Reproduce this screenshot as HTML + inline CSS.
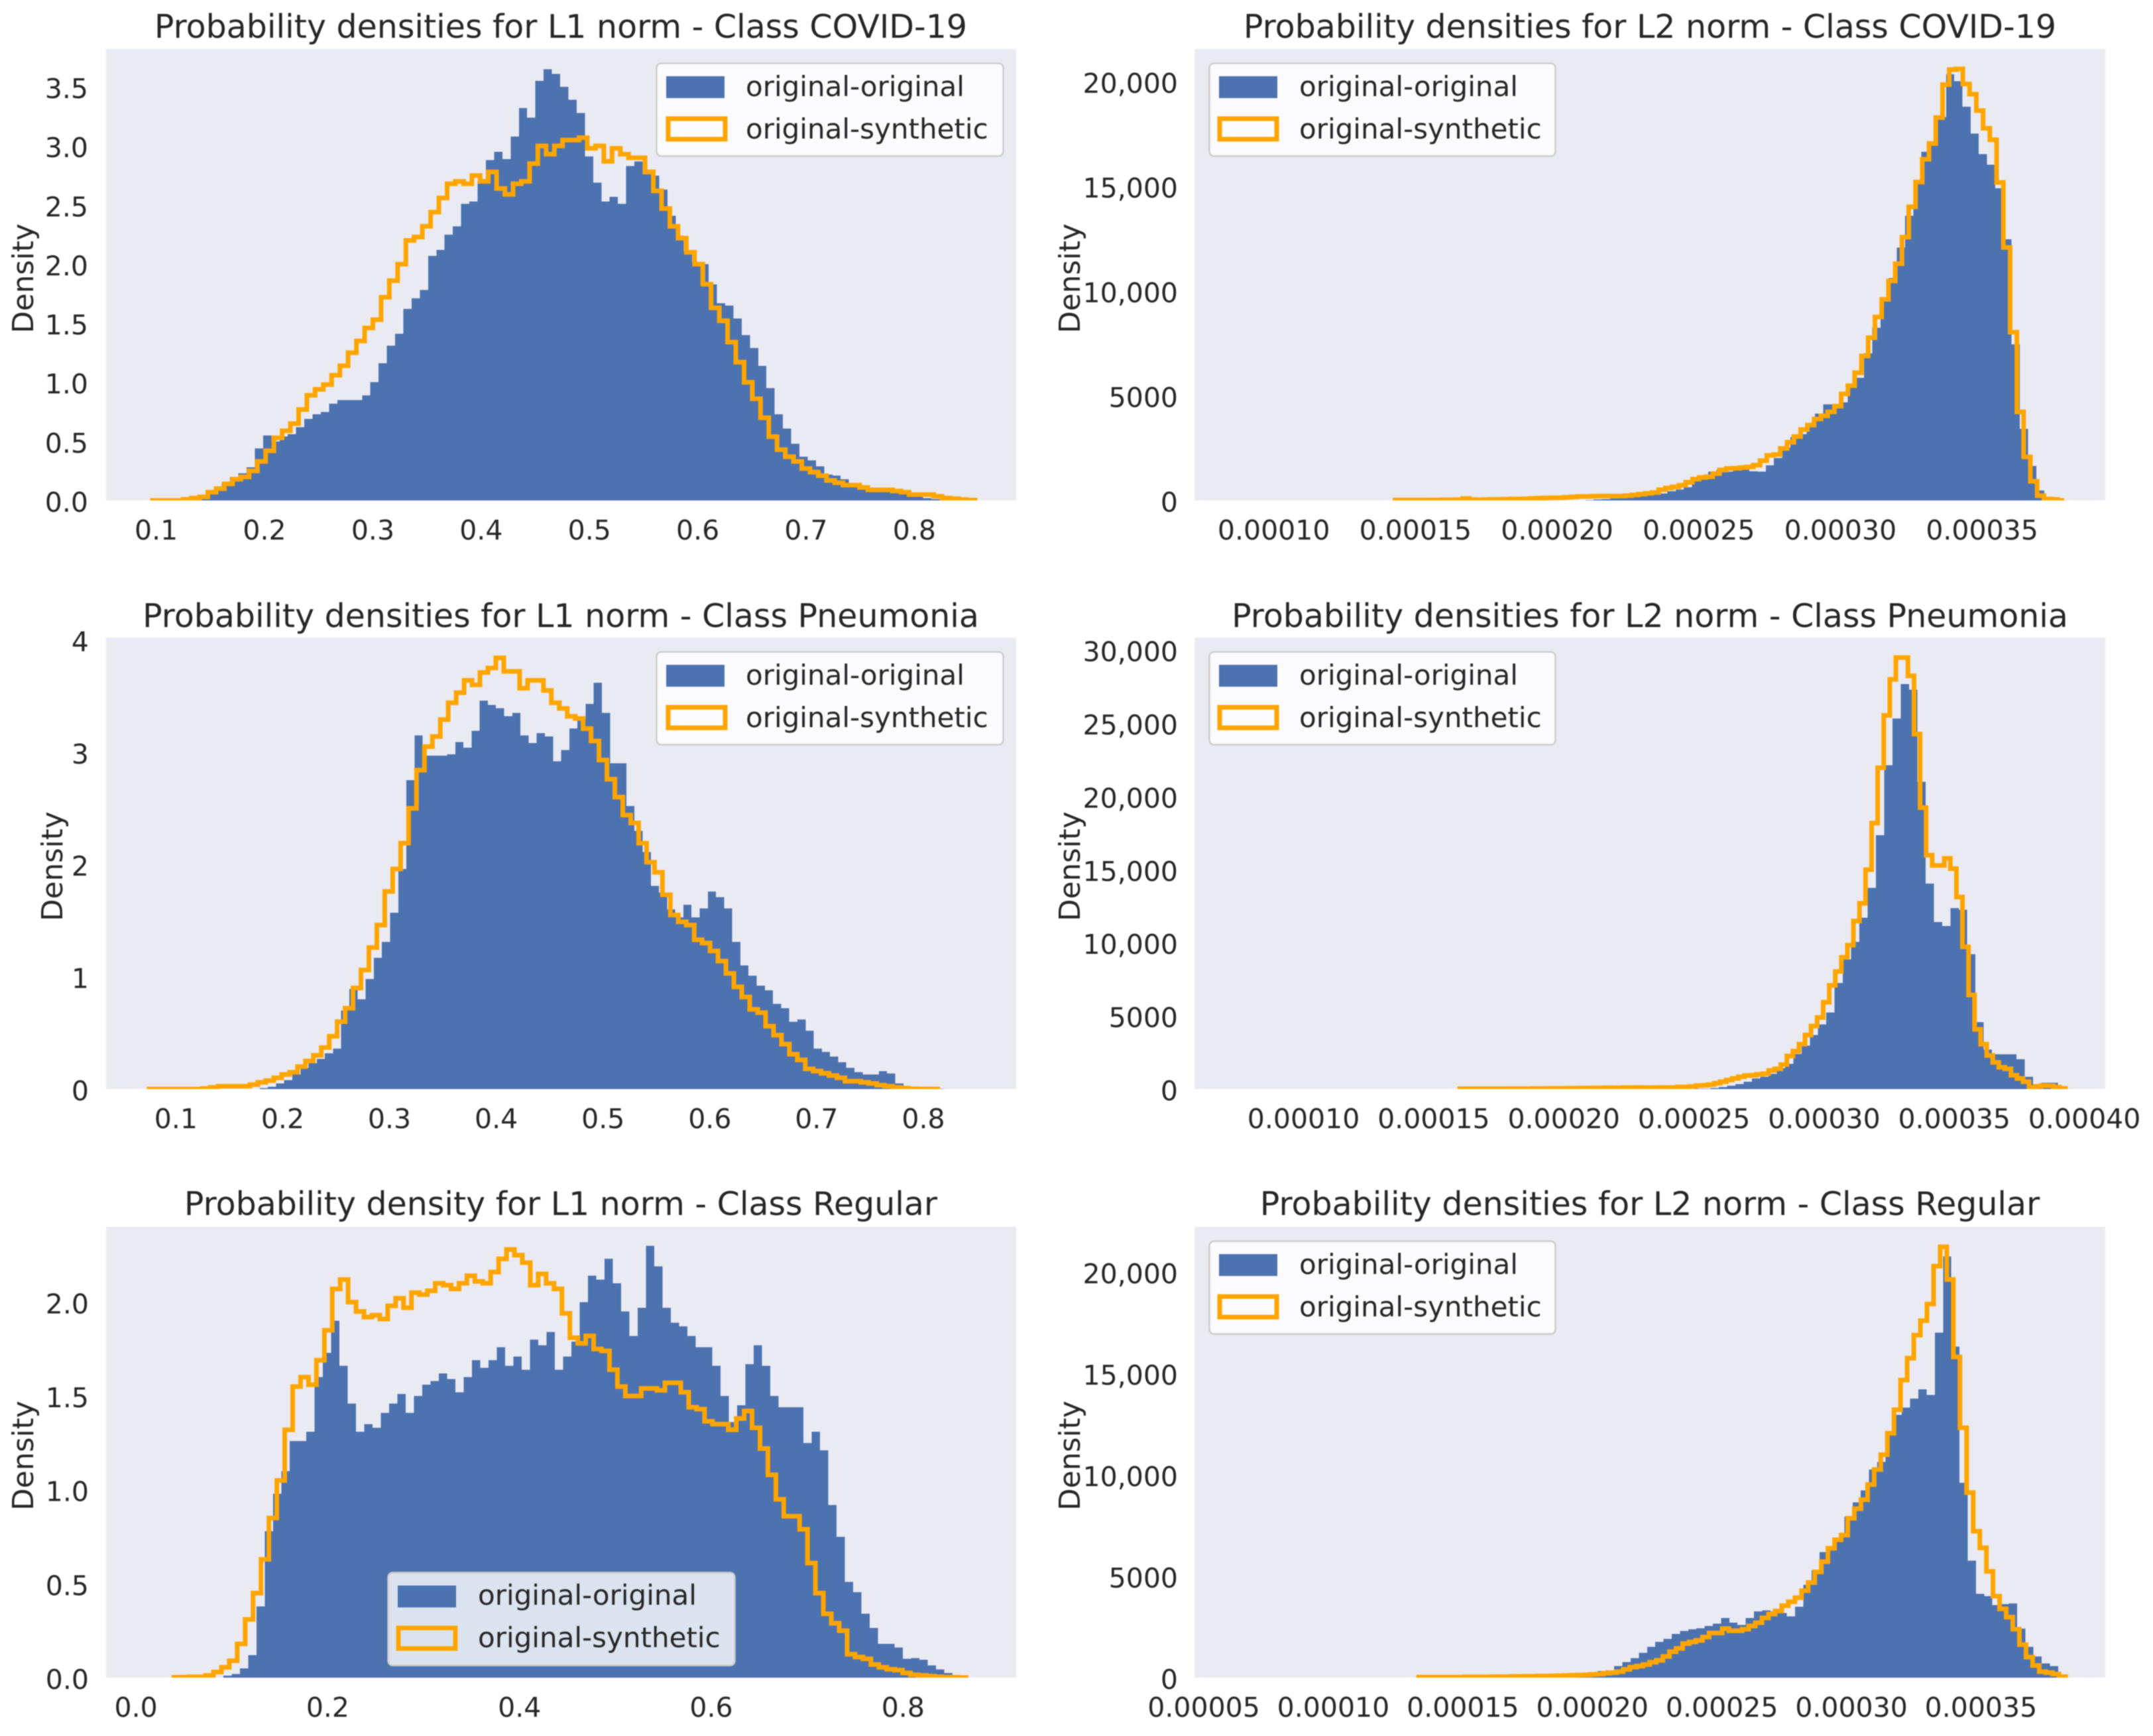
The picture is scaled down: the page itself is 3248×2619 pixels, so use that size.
<!DOCTYPE html>
<html lang="en">
<head>
<meta charset="utf-8">
<title>Probability densities</title>
<style>
html,body{margin:0;padding:0;background:#fff;}
svg{display:block;filter:blur(0.7px);}
text{font-family:"DejaVu Sans","Liberation Sans",sans-serif;fill:#262626;}
.title{font-size:49px;text-anchor:middle;}
.ylab{font-size:43.5px;text-anchor:middle;}
.leg{font-size:42px;}
.tick{font-size:41px;}
</style>
</head>
<body>
<svg id="chart" xmlns="http://www.w3.org/2000/svg" width="3248" height="2619" viewBox="0 0 3248 2619">
<rect width="3248" height="2619" fill="#fff"/>
<defs>
<clipPath id="clip-p1"><rect x="160" y="74" width="1373" height="681"/></clipPath>
<clipPath id="clip-p2"><rect x="1802" y="74" width="1374" height="681"/></clipPath>
<clipPath id="clip-p3"><rect x="160" y="962" width="1373" height="681"/></clipPath>
<clipPath id="clip-p4"><rect x="1802" y="962" width="1374" height="681"/></clipPath>
<clipPath id="clip-p5"><rect x="160" y="1851" width="1373" height="680"/></clipPath>
<clipPath id="clip-p6"><rect x="1802" y="1851" width="1374" height="680"/></clipPath>
</defs>

<g>
<rect x="160" y="74" width="1373" height="681" fill="#eaeaf2"/>
<g id="p1-marks" clip-path="url(#clip-p1)"></g>
<g id="p1-ticks"></g>
<text class="title" x="846" y="57">Probability densities for L1 norm - Class COVID-19</text>
<text class="ylab" transform="translate(50,420) rotate(-90)">Density</text>
<g>
<rect x="990.5" y="95.5" width="523" height="140" rx="7" fill="#fff" fill-opacity="0.8" stroke="#cccccc" stroke-width="2.5"/>
<rect x="1005" y="115" width="88" height="33" fill="#4c72b0"/>
<rect x="1008" y="179" width="86" height="31" fill="none" stroke="#ffa500" stroke-width="7"/>
<text class="leg" x="1125" y="145">original-original</text>
<text class="leg" x="1125" y="209">original-synthetic</text>
</g>
</g>

<g>
<rect x="1802" y="74" width="1374" height="681" fill="#eaeaf2"/>
<g id="p2-marks" clip-path="url(#clip-p2)"></g>
<g id="p2-ticks"></g>
<text class="title" x="2489" y="57">Probability densities for L2 norm - Class COVID-19</text>
<text class="ylab" transform="translate(1629,420) rotate(-90)">Density</text>
<g>
<rect x="1824.5" y="95.5" width="522" height="140" rx="7" fill="#fff" fill-opacity="0.8" stroke="#cccccc" stroke-width="2.5"/>
<rect x="1839" y="115" width="88" height="33" fill="#4c72b0"/>
<rect x="1840" y="179" width="86" height="31" fill="none" stroke="#ffa500" stroke-width="7"/>
<text class="leg" x="1960" y="145">original-original</text>
<text class="leg" x="1960" y="209">original-synthetic</text>
</g>
</g>

<g>
<rect x="160" y="962" width="1373" height="681" fill="#eaeaf2"/>
<g id="p3-marks" clip-path="url(#clip-p3)"></g>
<g id="p3-ticks"></g>
<text class="title" x="846" y="946">Probability densities for L1 norm - Class Pneumonia</text>
<text class="ylab" transform="translate(94,1307) rotate(-90)">Density</text>
<g>
<rect x="990.5" y="983.5" width="523" height="140" rx="7" fill="#fff" fill-opacity="0.8" stroke="#cccccc" stroke-width="2.5"/>
<rect x="1005" y="1003" width="88" height="33" fill="#4c72b0"/>
<rect x="1008" y="1067" width="86" height="31" fill="none" stroke="#ffa500" stroke-width="7"/>
<text class="leg" x="1125" y="1033">original-original</text>
<text class="leg" x="1125" y="1097">original-synthetic</text>
</g>
</g>

<g>
<rect x="1802" y="962" width="1374" height="681" fill="#eaeaf2"/>
<g id="p4-marks" clip-path="url(#clip-p4)"></g>
<g id="p4-ticks"></g>
<text class="title" x="2489" y="946">Probability densities for L2 norm - Class Pneumonia</text>
<text class="ylab" transform="translate(1629,1307) rotate(-90)">Density</text>
<g>
<rect x="1824.5" y="983.5" width="522" height="140" rx="7" fill="#fff" fill-opacity="0.8" stroke="#cccccc" stroke-width="2.5"/>
<rect x="1839" y="1003" width="88" height="33" fill="#4c72b0"/>
<rect x="1840" y="1067" width="86" height="31" fill="none" stroke="#ffa500" stroke-width="7"/>
<text class="leg" x="1960" y="1033">original-original</text>
<text class="leg" x="1960" y="1097">original-synthetic</text>
</g>
</g>

<g>
<rect x="160" y="1851" width="1373" height="680" fill="#eaeaf2"/>
<g id="p5-marks" clip-path="url(#clip-p5)"></g>
<g id="p5-ticks"></g>
<text class="title" x="846" y="1833">Probability density for L1 norm - Class Regular</text>
<text class="ylab" transform="translate(50,2196) rotate(-90)">Density</text>
<g>
<rect x="585.5" y="2372.5" width="523" height="140" rx="7" fill="#fff" fill-opacity="0.8" stroke="#cccccc" stroke-width="2.5"/>
<rect x="600" y="2392" width="88" height="33" fill="#4c72b0"/>
<rect x="601" y="2456" width="86" height="31" fill="none" stroke="#ffa500" stroke-width="7"/>
<text class="leg" x="721" y="2421">original-original</text>
<text class="leg" x="721" y="2485">original-synthetic</text>
</g>
</g>

<g>
<rect x="1802" y="1851" width="1374" height="680" fill="#eaeaf2"/>
<g id="p6-marks" clip-path="url(#clip-p6)"></g>
<g id="p6-ticks"></g>
<text class="title" x="2489" y="1833">Probability densities for L2 norm - Class Regular</text>
<text class="ylab" transform="translate(1629,2196) rotate(-90)">Density</text>
<g>
<rect x="1824.5" y="1872.5" width="522" height="140" rx="7" fill="#fff" fill-opacity="0.8" stroke="#cccccc" stroke-width="2.5"/>
<rect x="1839" y="1892" width="88" height="33" fill="#4c72b0"/>
<rect x="1840" y="1956" width="86" height="31" fill="none" stroke="#ffa500" stroke-width="7"/>
<text class="leg" x="1960" y="1922">original-original</text>
<text class="leg" x="1960" y="1986">original-synthetic</text>
</g>
</g>
</svg>

<script>
// Series densities per histogram bin
const p1Original = [.015,.03,.04,.08,.09,.15,.2,.23,.28,.44,.55,.50,.54,.56,.62,.69,.73,.75,.82,.85,.85,.85,.89,1.0,1.16,1.31,1.41,1.62,1.71,1.78,2.07,2.12,2.25,2.32,2.51,2.53,2.70,2.88,2.95,2.89,3.08,3.32,3.24,3.55,3.65,3.61,3.5,3.39,3.28,2.91,2.69,2.53,2.57,2.51,2.83,2.87,2.76,2.75,2.63,2.41,2.24,2.11,2.02,2.0,1.83,1.67,1.65,1.54,1.40,1.29,1.14,.95,.73,.61,.48,.37,.34,.29,.22,.21,.18,.13,.11,.09,.08,.077,.07,.05,.04,.03,.02,.012,.006];
const p1Synthetic = [0,0,0,0,.01,.02,.03,.07,.10,.14,.18,.2,.25,.33,.42,.53,.59,.65,.77,.89,.94,.98,1.06,1.14,1.25,1.35,1.46,1.53,1.72,1.86,2.0,2.2,2.23,2.32,2.44,2.56,2.68,2.7,2.68,2.75,2.7,2.78,2.64,2.59,2.68,2.7,2.85,3.0,2.93,3.0,3.05,3.05,3.07,2.98,3.0,2.87,2.98,2.93,2.9,2.9,2.78,2.62,2.47,2.32,2.22,2.1,2.0,1.83,1.63,1.52,1.34,1.17,1.0,.86,.7,.54,.43,.37,.33,.27,.24,.21,.17,.15,.13,.13,.11,.09,.09,.09,.08,.07,.05,.05,.05,.035,.02,.015,.008,.003];
const p2Original = [20,40,70,100,130,170,200,250,300,335,450,520,625,945,1160,1380,1450,1380,1470,1500,1395,1380,1670,2030,2515,3020,3170,3705,4140,4590,4590,4690,5380,5850,7020,8250,9600,10620,12075,13590,15130,16640,16970,18300,20340,20020,18790,17520,16530,16030,14900,12470,7450,3415,1640,480];
const p2Synthetic = [20,20,20,20,20,25,25,30,30,40,90,40,30,40,50,50,60,70,70,80,100,110,120,130,130,150,170,190,190,200,210,210,210,210,230,260,300,340,380,510,595,650,725,870,1015,1100,1130,1280,1450,1525,1540,1570,1600,1685,1900,2150,2190,2485,2775,3050,3385,3600,3890,4040,4230,4500,5085,5480,6100,6900,7770,8760,9600,10480,11300,12570,14020,15200,16290,17040,18280,19850,20570,20600,19880,19400,18610,17770,17220,15180,12075,8035,4230,2080,915,230,70,50,0];
const p3Original = [.01,.02,.05,.08,.13,.19,.23,.27,.32,.36,.7,.89,.8,.98,1.17,1.31,1.57,1.96,2.75,3.15,2.97,2.97,2.97,2.98,3.09,3.04,3.19,3.46,3.42,3.39,3.32,3.35,3.15,3.08,3.17,3.14,2.92,3.02,3.21,3.29,3.43,3.62,3.35,2.9,2.9,2.52,2.3,2.11,1.81,1.75,1.6,1.53,1.64,1.53,1.61,1.76,1.71,1.61,1.31,1.1,1.01,.92,.88,.76,.72,.6,.62,.52,.36,.33,.29,.24,.19,.15,.13,.13,.16,.14,.05,.01,.005,.003,.002,.002,.001];
const p3Synthetic = [0,0,0,0,0,0,0,.005,.015,.025,.025,.025,.025,.04,.06,.075,.1,.13,.15,.2,.25,.3,.37,.47,.6,.72,.9,1.06,1.26,1.46,1.76,1.96,2.19,2.5,2.84,3.05,3.14,3.29,3.44,3.53,3.64,3.6,3.71,3.75,3.84,3.72,3.72,3.57,3.64,3.64,3.55,3.44,3.39,3.32,3.3,3.21,3.1,2.93,2.76,2.6,2.44,2.37,2.19,2.02,1.93,1.73,1.55,1.49,1.46,1.33,1.3,1.23,1.14,1.03,.91,.82,.71,.68,.56,.48,.4,.31,.26,.18,.16,.14,.12,.1,.07,.07,.06,.05,.035,.025,.015,.008,.002,.001,.001,0];
const p4Original = [20,30,65,130,220,330,505,725,835,1050,1430,1710,2410,2960,3690,4410,5220,7240,8850,10050,11700,13740,17340,22130,25310,27660,27280,21000,14050,11410,11150,12360,12250,9220,4565,2700,2370,2370,2370,2040,835,350,440,440,65];
const p4Synthetic = [20,20,20,20,20,20,20,20,30,30,30,30,40,40,40,50,50,50,60,60,70,70,80,80,90,80,90,100,100,110,100,90,100,110,110,110,150,150,175,240,260,305,395,505,615,725,835,920,945,1010,1050,1270,1380,1670,2260,2590,3070,3690,4300,4890,5930,7090,8030,9000,9830,11480,12690,14990,18170,21950,25530,27990,29480,29480,28230,24250,19230,15980,15280,15280,15760,15060,13120,9720,6430,4080,3070,2300,1820,1490,1380,945,725,505,110,175,240,220,130,45];
const p5Original = [.01,.02,.05,.12,.38,.78,.98,1.1,1.26,1.26,1.31,1.6,1.73,1.9,1.66,1.46,1.31,1.35,1.33,1.41,1.46,1.51,1.41,1.5,1.56,1.58,1.62,1.59,1.52,1.6,1.69,1.65,1.69,1.76,1.66,1.71,1.64,1.8,1.77,1.84,1.64,1.71,1.79,2.0,2.14,2.12,2.23,2.1,1.95,1.82,1.97,2.3,2.19,1.97,1.89,1.87,1.82,1.76,1.76,1.66,1.5,1.36,1.45,1.67,1.77,1.66,1.5,1.44,1.44,1.44,1.25,1.31,1.21,.92,.75,.51,.455,.34,.265,.18,.18,.16,.1,.105,.095,.065,.045,.025];
const p5Synthetic = [.002,.003,.005,.005,.012,.03,.055,.09,.18,.31,.45,.63,.85,1.05,1.32,1.55,1.6,1.56,1.69,1.85,2.07,2.12,2.0,1.95,1.92,1.93,1.91,1.98,2.02,1.97,2.05,2.04,2.06,2.1,2.09,2.07,2.1,2.14,2.11,2.1,2.16,2.23,2.28,2.25,2.21,2.09,2.15,2.1,2.07,1.94,1.81,1.78,1.82,1.75,1.74,1.64,1.55,1.5,1.5,1.54,1.54,1.53,1.57,1.57,1.52,1.44,1.43,1.365,1.35,1.35,1.32,1.38,1.42,1.33,1.22,1.08,.95,.86,.86,.79,.61,.45,.34,.29,.25,.125,.11,.1,.07,.055,.045,.04,.025,.015,.012,.008,.005,.003,.002,.001];
const p6Original = [10,20,30,40,60,80,100,120,140,170,200,250,330,365,570,760,965,1220,1520,1760,1915,2150,2310,2390,2440,2550,2660,2945,2710,2600,2945,3260,3310,3260,3180,3025,3500,4580,5290,6190,6430,6905,7935,8650,9235,10260,10630,11975,12960,13320,13750,14220,13940,17010,20770,16330,9600,5770,4130,4020,3580,3630,3660,2420,1520,1045,700,570];
const p6Synthetic = [30,30,30,30,30,30,30,40,40,40,40,50,50,50,60,60,70,70,80,80,90,100,110,120,130,140,160,175,220,250,300,410,520,570,650,760,855,1045,1280,1440,1680,1760,1840,2000,2200,2200,2420,2310,2310,2390,2550,2710,2945,3135,3290,3550,3740,3940,4290,4690,5210,5720,6380,6795,7030,7860,8330,8775,9520,10260,10990,12050,13210,14670,15750,16885,17600,18420,20290,21240,19630,15810,12320,9120,7220,6400,5240,4020,3390,2980,2390,1630,1015,600,300,250,175,50];

// Tick values and their printed labels
const p1XTicks = [0.1,0.2,0.3,0.4,0.5,0.6,0.7,0.8];
const p1XLabels = ['0.1','0.2','0.3','0.4','0.5','0.6','0.7','0.8'];
const p1YTicks = [0,0.5,1,1.5,2,2.5,3,3.5];
const p1YLabels = ['0.0','0.5','1.0','1.5','2.0','2.5','3.0','3.5'];
const p2XTicks = [0.0001,0.00015,0.0002,0.00025,0.0003,0.00035];
const p2XLabels = ['0.00010','0.00015','0.00020','0.00025','0.00030','0.00035'];
const p2YTicks = [0,5000,10000,15000,20000];
const p2YLabels = ['0','5000','10,000','15,000','20,000'];
const p3XTicks = [0.1,0.2,0.3,0.4,0.5,0.6,0.7,0.8];
const p3XLabels = ['0.1','0.2','0.3','0.4','0.5','0.6','0.7','0.8'];
const p3YTicks = [0,1,2,3,4];
const p3YLabels = ['0','1','2','3','4'];
const p4XTicks = [0.0001,0.00015,0.0002,0.00025,0.0003,0.00035,0.0004];
const p4XLabels = ['0.00010','0.00015','0.00020','0.00025','0.00030','0.00035','0.00040'];
const p4YTicks = [0,5000,10000,15000,20000,25000,30000];
const p4YLabels = ['0','5000','10,000','15,000','20,000','25,000','30,000'];
const p5XTicks = [0,0.2,0.4,0.6,0.8];
const p5XLabels = ['0.0','0.2','0.4','0.6','0.8'];
const p5YTicks = [0,0.5,1,1.5,2];
const p5YLabels = ['0.0','0.5','1.0','1.5','2.0'];
const p6XTicks = [0.00005,0.0001,0.00015,0.0002,0.00025,0.0003,0.00035];
const p6XLabels = ['0.00005','0.00010','0.00015','0.00020','0.00025','0.00030','0.00035'];
const p6YTicks = [0,5000,10000,15000,20000];
const p6YLabels = ['0','5000','10,000','15,000','20,000'];

// Panel layout and data-domain limits
const panels = [
 {id:'p1',left:160,right:1533,top:74,bottom:755,xMin:0.0537,xMax:0.894,yMax:3.82,orig:p1Original,synth:p1Synthetic,origRange:[0.1225,0.831],synthRange:[0.0944,0.856],xt:p1XTicks,xl:p1XLabels,yt:p1YTicks,yl:p1YLabels,yRight:133},
 {id:'p2',left:1802,right:3176,top:74,bottom:755,xMin:0.000072,xMax:0.0003935,yMax:21550,orig:p2Original,synth:p2Synthetic,origRange:[0.00021,0.000372],synthRange:[0.0001428,0.000379],xt:p2XTicks,xl:p2XLabels,yt:p2YTicks,yl:p2YLabels,yRight:1777},
 {id:'p3',left:160,right:1533,top:962,bottom:1643,xMin:0.0346,xMax:0.8869,yMax:4.02,orig:p3Original,synth:p3Synthetic,origRange:[0.1785,0.827],synthRange:[0.0727,0.8157],xt:p3XTicks,xl:p3XLabels,yt:p3YTicks,yl:p3YLabels,yRight:134},
 {id:'p4',left:1802,right:3176,top:962,bottom:1643,xMin:0.0000581,xMax:0.000408,yMax:30840,orig:p4Original,synth:p4Synthetic,origRange:[0.00025,0.000393],synthRange:[0.00016,0.0003927],xt:p4XTicks,xl:p4XLabels,yt:p4YTicks,yl:p4YLabels,yRight:1777},
 {id:'p5',left:160,right:1533,top:1851,bottom:2531,xMin:-0.0312,xMax:0.918,yMax:2.40,orig:p5Original,synth:p5Synthetic,origRange:[0.091,0.8515],synthRange:[0.0395,0.8656],xt:p5XTicks,xl:p5XLabels,yt:p5YTicks,yl:p5YLabels,yRight:134},
 {id:'p6',left:1802,right:3176,top:1851,bottom:2531,xMin:0.0000464,xMax:0.000398,yMax:22220,orig:p6Original,synth:p6Synthetic,origRange:[0.000164,0.0003798],synthRange:[0.0001329,0.0003827],xt:p6XTicks,xl:p6XLabels,yt:p6YTicks,yl:p6YLabels,yRight:1777}
];

const NS = 'http://www.w3.org/2000/svg';

function drawPanel(p){
  const xScale = v => p.left + (v - p.xMin) / (p.xMax - p.xMin) * (p.right - p.left);
  const yScale = v => p.bottom - v / p.yMax * (p.bottom - p.top);
  const marks = document.getElementById(p.id + '-marks');
  const ticks = document.getElementById(p.id + '-ticks');

  // original-original filled bars
  const bw = (p.origRange[1] - p.origRange[0]) / p.orig.length;
  p.orig.forEach((v, i) => {
    const x0 = xScale(p.origRange[0] + i * bw);
    const x1 = xScale(p.origRange[0] + (i + 1) * bw);
    const el = document.createElementNS(NS, 'rect');
    
    
    el.setAttribute('x', x0);
    el.setAttribute('y', yScale(v));
    el.setAttribute('width', x1 - x0);
    el.setAttribute('height', p.bottom - yScale(v));
    el.setAttribute('fill', '#4c72b0');
    el.setAttribute('shape-rendering', 'crispEdges');
    marks.appendChild(el);
  });

  // original-synthetic step outline
  const sw = (p.synthRange[1] - p.synthRange[0]) / p.synth.length;
  let d = 'M' + xScale(p.synthRange[0]) + ' ' + yScale(0);
  p.synth.forEach((v, i) => {
    d += 'L' + xScale(p.synthRange[0] + i * sw) + ' ' + yScale(v);
    d += 'L' + xScale(p.synthRange[0] + (i + 1) * sw) + ' ' + yScale(v);
  });
  d += 'L' + xScale(p.synthRange[1]) + ' ' + yScale(0);
  const line = document.createElementNS(NS, 'path');
  
  
  line.setAttribute('d', d);
  line.setAttribute('fill', 'none');
  line.setAttribute('stroke', '#ffa500');
  line.setAttribute('stroke-width', '7');
  line.setAttribute('stroke-linejoin', 'miter');
  marks.appendChild(line);

  // x tick labels
  p.xt.forEach((v, i) => {
    const t = document.createElementNS(NS, 'text');
    
    
    t.setAttribute('class', 'tick');
    t.setAttribute('x', xScale(v));
    t.setAttribute('y', p.bottom + 59);
    t.setAttribute('text-anchor', 'middle');
    t.textContent = p.xl[i];
    ticks.appendChild(t);
  });

  // y tick labels
  p.yt.forEach((v, i) => {
    const t = document.createElementNS(NS, 'text');
    
    
    t.setAttribute('class', 'tick');
    t.setAttribute('x', p.yRight);
    t.setAttribute('y', yScale(v) + 17);
    t.setAttribute('text-anchor', 'end');
    t.textContent = p.yl[i];
    ticks.appendChild(t);
  });
}

panels.forEach(drawPanel);
</script>
</body>
</html>
